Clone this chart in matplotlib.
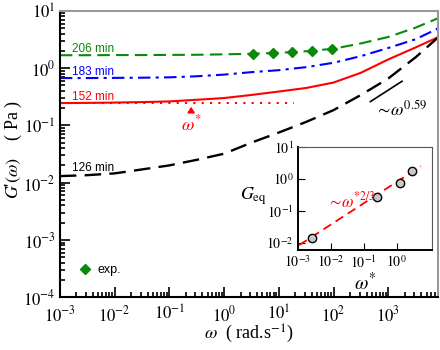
import numpy as np
import matplotlib
matplotlib.use("Agg")
import matplotlib.pyplot as plt
from matplotlib.lines import Line2D

plt.rcParams["mathtext.fontset"] = "stix"
plt.rcParams["font.family"] = ["Liberation Sans", "DejaVu Sans"]

# frequency grid (half decades)
w = [1e-3, 3.16e-3, 1e-2, 3.16e-2, 1e-1, 3.16e-1, 1, 3.16, 10, 31.6, 100, 316, 1000, 3160, 8000]
g_206 = [1.68, 1.68, 1.69, 1.69, 1.70, 1.71, 1.74, 1.78, 1.85, 1.97, 2.18, 2.7, 3.5, 5.1, 7.4]
g_183 = [0.67, 0.67, 0.675, 0.68, 0.69, 0.72, 0.77, 0.85, 0.92, 1.04, 1.24, 1.62, 2.25, 3.2, 4.9]
g_152 = [0.245, 0.247, 0.25, 0.255, 0.262, 0.28, 0.30, 0.34, 0.39, 0.45, 0.56, 0.83, 1.42, 2.3, 3.45]
g_126 = [0.013, 0.0135, 0.0145, 0.017, 0.020, 0.025, 0.032, 0.05, 0.075, 0.115, 0.185, 0.34, 0.66, 1.55, 3.4]

# experimental points, 206 min
w_exp = [3.4, 7.7, 17.7, 41, 92]
g_exp = [1.78, 1.81, 1.88, 2.0, 2.12]

# plateau of the 152 min curve and omega*
plateau_w = [1e-3, 18.6]
plateau_g = [0.245, 0.245]
w_star = 0.25

# ~omega^0.59 guide
slope_w = [470, 1780]
slope_g = [0.26, 0.59]

# inset: G_eq vs omega*
inset_w = [0.0026, 0.26, 1.3, 3.0]
inset_g = [0.014, 0.28, 0.76, 1.77]
fit_w = [1.1e-3, 5.5]
fit_g = [0.0085, 2.5]

labels = ["206 min", "183 min", "152 min", "126 min"]
label_g = [2.15, 0.86, 0.31, 0.0178]

green = "#0a8a0a"
serif = ["Liberation Serif", "DejaVu Serif"]
fig = plt.figure(figsize=(4.4, 3.5), dpi=100)
ax = fig.add_axes([0.136, 0.151, 0.859, 0.818])

ax.plot(w, g_206, color=green, ls=(0, (6, 3)), lw=1.5)
ax.plot(w, g_183, color="blue", ls=(0, (6, 2.5, 1.5, 2.5)), lw=1.5)
ax.plot(w, g_152, color="red", ls="-", lw=1.5)
ax.plot(w, g_126, color="black", ls=(0, (7, 3.5)), lw=1.7)
ax.plot(plateau_w, plateau_g, color="red", ls=(0, (1, 3)), lw=1.5)
ax.plot(w_exp, g_exp, ls="none", marker="D", ms=5.5, color=green)
ax.plot(slope_w, slope_g, color="black", lw=1.2)

for lab, gy, c in zip(labels, label_g, [green, "blue", "red", "black"]):
    ax.text(1.65e-3, gy, lab, color=c, fontsize=8.5, va="center", ha="left")

ax.annotate("", xy=(w_star, 0.235), xytext=(w_star, 0.165),
            arrowprops=dict(arrowstyle="-|>,head_length=0.3,head_width=0.2", color="red", lw=1.3))
ax.text(w_star, 0.105, r"$\omega^{*}$", color="red", fontsize=13, ha="center", va="center")
ax.text(560, 0.185, r"$\sim\!\omega^{0.59}$", fontsize=13, ha="left", va="center")

ax.set_xscale("log")
ax.set_yscale("log")
ax.set_xlim(1e-3, 8e3)
ax.set_ylim(1e-4, 1e1)
ax.set_xticks([1e-3, 1e-2, 1e-1, 1, 10, 100, 1000])
ax.set_xticklabels([r"$10^{-3}$", r"$10^{-2}$", r"$10^{-1}$", r"$10^{0}$", r"$10^{1}$", r"$10^{2}$", r"$10^{3}$"])
ax.set_yticks([1e-4, 1e-3, 1e-2, 1e-1, 1, 10])
ax.set_yticklabels([r"$10^{-4}$", r"$10^{-3}$", r"$10^{-2}$", r"$10^{-1}$", r"$10^{0}$", r"$10^{1}$"])
ax.tick_params(which="both", direction="in", top=False, right=False, labelsize=12, width=1.2)
ax.tick_params(which="major", length=7, pad=3)
ax.tick_params(axis="x", which="major", pad=5)
ax.tick_params(which="minor", length=3.5)
for s in ["left", "bottom"]:
    ax.spines[s].set_linewidth(1.5)
for s in ["top", "right"]:
    ax.spines[s].set_color("#999999")
    ax.spines[s].set_linewidth(1.5)

ax.set_xlabel(r"$\omega$  ( rad.s$^{-1}$)", fontsize=13, family=serif, labelpad=-1)
ax.set_ylabel(r"$G$'$(\omega)$    ( Pa )", fontsize=13, family=serif)
ax.yaxis.set_label_coords(-0.095, 0.514)

handle = Line2D([], [], ls="none", marker="D", ms=5.5, color=green)
ax.legend([handle], ["exp."], loc="lower left", frameon=False, fontsize=9,
          handlelength=1.0, handletextpad=0.5, bbox_to_anchor=(0.02, 0.035))

# inset
ins = fig.add_axes([0.677, 0.286, 0.305, 0.294])
ins.plot(fit_w, fit_g, color="red", ls=(0, (5, 3)), lw=1.3)
ins.plot(inset_w, inset_g, ls="none", marker="o", ms=6, mfc="#c8c8c8", mec="black", mew=1)
ins.set_xscale("log")
ins.set_yscale("log")
ins.set_xlim(1e-3, 12)
ins.set_ylim(6e-3, 10)
ins.set_xticks([1e-3, 1e-2, 1e-1, 1])
ins.set_xticklabels([r"$10^{-3}$", r"$10^{-2}$", r"$10^{-1}$", r"$10^{0}$"])
ins.set_yticks([1e-2, 1e-1, 1, 10])
ins.set_yticklabels([r"$10^{-2}$", r"$10^{-1}$", r"$10^{0}$", r"$10^{1}$"])
ins.tick_params(which="both", direction="in", top=False, right=False, labelsize=10)
ins.tick_params(which="major", length=5, pad=3)
ins.tick_params(which="minor", length=2.5)
ins.spines["left"].set_linewidth(1.4)
ins.spines["bottom"].set_linewidth(1.4)
ins.spines["top"].set_color("#555555")
ins.spines["right"].set_color("#555555")
ins.set_xlabel(r"$\omega^{*}$", fontsize=14, labelpad=1)
ins.set_ylabel(r"$G_{\mathrm{eq}}$", fontsize=13, rotation=0, ha="center", va="center")
ins.yaxis.set_label_coords(-0.33, 0.52)
ins.text(0.0075, 0.22, r"$\sim\!\omega^{*2/3}$", color="red", fontsize=12, ha="left", va="center")

fig.savefig("out.png", dpi=100)
